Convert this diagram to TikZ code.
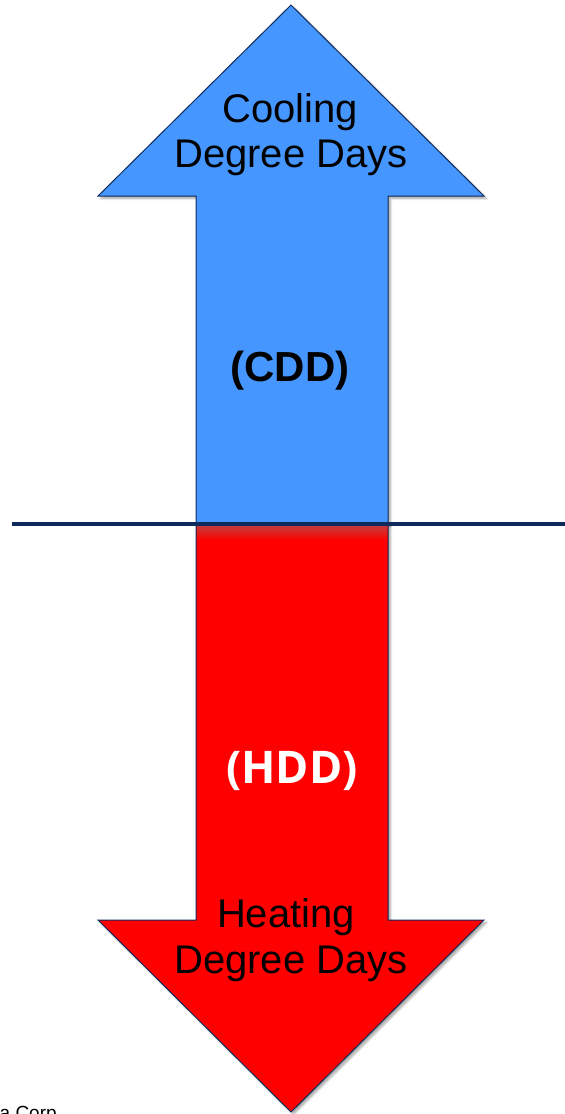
\documentclass[tikz,border=0pt]{standalone}
\usepackage{fontspec}
\setmainfont{Liberation Sans}
\newfontfamily\hddfont{Open Sans}
\usetikzlibrary{shadows.blur}
\definecolor{cddblue}{HTML}{4596FF}
\definecolor{hddred}{HTML}{FF0000}
\definecolor{navy}{HTML}{0F2B5B}
\begin{document}
\begin{tikzpicture}[x=1pt,y=-1pt,
  arrowshape/.style={draw=navy, line width=1pt, line join=miter,
    blur shadow={shadow xshift=2.5pt, shadow yshift=-2.5pt, shadow blur steps=6, shadow opacity=35}},
  bigtext/.style={font=\fontsize{40}{46}\selectfont, anchor=base, inner sep=0pt},
  abbrtext/.style={font=\fontsize{42}{48}\selectfont\bfseries, anchor=base, inner sep=0pt},
  divider/.style={draw=navy, line width=4pt}]
\useasboundingbox (0,0) rectangle (565,1114);
% up arrow (CDD)
\path[arrowshape, fill=cddblue]
  (291,5) -- (484,196) -- (388,196) -- (388,524) -- (196,524) -- (196,196) -- (98,196) -- cycle;
% down arrow (HDD)
\path[arrowshape, fill=hddred]
  (196,524) -- (388,524) -- (388,920) -- (484,920) -- (291,1112) -- (98,920) -- (196,920) -- cycle;
% shadow of the line onto red shaft
\shade[top color=red!55!gray, bottom color=hddred] (197,526) rectangle (387,540);
% divider line
\coordinate (lineL) at (12,524);
\coordinate (lineR) at (565,524);
\draw[divider] (lineL) -- (lineR);
% texts
\node[bigtext] (cool) at (290,122) {Cooling};
\node[bigtext] (cdeg) at (291,167) {Degree Days};
\node[abbrtext] (cdd) at (290,381) {(CDD)};
\node[font=\fontsize{45}{50}\selectfont\hddfont\bfseries, text=white, anchor=base, inner sep=0pt] (hdd) at (292,783) {(HDD)};
\node[bigtext] (heat) at (286,927) {Heating};
\node[bigtext] (hdeg) at (291,973) {Degree Days};
\node[font=\fontsize{19}{22}\selectfont, anchor=base west, inner sep=0pt] (corp) at (-0.5,1119) {a Corp.};
\end{tikzpicture}
\end{document}
